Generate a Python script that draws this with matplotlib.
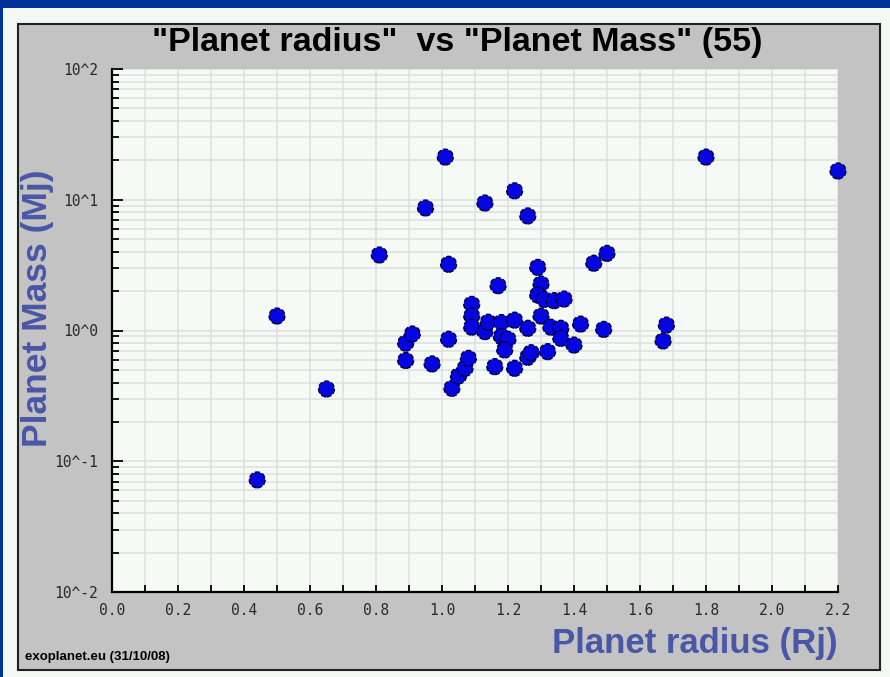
import numpy as np
import matplotlib
matplotlib.use("Agg")
import matplotlib.pyplot as plt
from matplotlib.patches import Rectangle
from matplotlib.ticker import LogLocator, FixedLocator, NullFormatter, MultipleLocator

# planet radius (Rj) and planet mass (Mj)
radius = [0.44, 0.50, 0.65, 0.81, 0.89, 0.91, 0.89, 0.97, 0.95, 1.01,
          1.02, 1.02, 1.03, 1.05, 1.07, 1.08, 1.09, 1.09, 1.09, 1.13,
          1.14, 1.13, 1.16, 1.17, 1.18, 1.18, 1.20, 1.19, 1.22, 1.22,
          1.22, 1.26, 1.26, 1.27, 1.26, 1.29, 1.30, 1.29, 1.31, 1.30,
          1.32, 1.33, 1.34, 1.36, 1.36, 1.37, 1.40, 1.42, 1.46, 1.50,
          1.49, 1.67, 1.68, 1.80, 2.20]
mass = [0.072, 1.29, 0.357, 3.78, 0.80, 0.94, 0.59, 0.555, 8.65, 21.2,
        0.857, 3.21, 0.361, 0.449, 0.514, 0.613, 1.585, 1.29, 1.06, 0.98,
        1.157, 9.44, 0.529, 2.20, 1.15, 0.897, 0.857, 0.71, 11.7, 1.20,
        0.514, 1.04, 0.624, 0.676, 7.52, 3.04, 2.27, 1.87, 1.73, 1.29,
        0.689, 1.06, 1.69, 1.04, 0.871, 1.74, 0.774, 1.12, 3.27, 3.89,
        1.02, 0.832, 1.10, 21.2, 16.6]

x_ticks = [0.0, 0.2, 0.4, 0.6, 0.8, 1.0, 1.2, 1.4, 1.6, 1.8, 2.0, 2.2]
y_ticks = [1e-2, 1e-1, 1e0, 1e1, 1e2]
y_labels = ["10^-2", "10^-1", "10^0", "10^1", "10^2"]

W, H = 890, 677
fig = plt.figure(figsize=(W / 100, H / 100), dpi=100)
fig.patch.set_facecolor("#f4f8f4")

def px(x0, y0, w, h):
    # pixel box (top-left origin) -> figure fraction
    return (x0 / W, 1 - (y0 + h) / H, w / W, h / H)

# blue frame strips
fig.add_artist(Rectangle((0, 1 - 8 / H), 1, 8 / H, transform=fig.transFigure,
                         facecolor="#003399", edgecolor="none", zorder=-10))
fig.add_artist(Rectangle((0, 0), 3 / W, 1, transform=fig.transFigure,
                         facecolor="#003399", edgecolor="none", zorder=-10))

# grey panel
bx, by, bw, bh = px(18, 24, 862, 646)
fig.add_artist(Rectangle((bx, by), bw, bh, transform=fig.transFigure,
                         facecolor="#c2c3c2", edgecolor="#222222", linewidth=1.5,
                         zorder=-10))

ax = fig.add_axes(px(112, 69, 726, 523))
ax.set_facecolor("#f6faf6")
ax.set_yscale("log")
ax.set_xlim(0, 2.2)
ax.set_ylim(1e-2, 1e2)

ax.scatter(radius, mass, s=130, color="#0505e0", edgecolors="#000033",
           linewidths=1.0, linestyles="--", zorder=3, clip_on=False)

for s in ["top", "right"]:
    ax.spines[s].set_visible(False)
for s in ["left", "bottom"]:
    ax.spines[s].set_color("black")
    ax.spines[s].set_linewidth(1.6)

mono = "DejaVu Sans Mono"
ax.xaxis.set_major_locator(FixedLocator(x_ticks))
ax.xaxis.set_minor_locator(MultipleLocator(0.1))
ax.set_xticklabels([f"{v:.1f}" for v in x_ticks], fontfamily=mono, fontsize=10.5, color="#2a2a2a")
ax.yaxis.set_major_locator(FixedLocator(y_ticks))
ax.yaxis.set_minor_locator(LogLocator(base=10, subs=np.arange(2, 10)))
ax.yaxis.set_minor_formatter(NullFormatter())
ax.set_yticklabels(y_labels, fontfamily=mono, fontsize=10.5, color="#2a2a2a")

ax.tick_params(axis="x", which="both", direction="in", length=5, width=1.3, pad=8, color="black")
ax.tick_params(axis="y", which="major", direction="in", length=8, width=1.3, pad=10, color="black")
ax.tick_params(axis="y", which="minor", direction="in", length=5, width=1.3, color="black")

ax.grid(True, which="both", color="#dfe1df", linewidth=1.2)
ax.set_axisbelow(True)

sans = ["Liberation Sans", "DejaVu Sans"]
fig.text(457 / W, 1 - 43 / H, '"Planet radius"  vs "Planet Mass" (55)',
         ha="center", va="center", fontsize=24.5, fontweight="bold", family=sans, color="black")
fig.text(38 / W, 1 - 308 / H, "Planet Mass (Mj)", rotation=90, ha="center", va="center",
         fontsize=25.5, fontweight="bold", family=sans, color="#4a56a6")
fig.text(838 / W, 1 - 643 / H, "Planet radius (Rj)", ha="right", va="center",
         fontsize=25, fontweight="bold", family=sans, color="#4a56a6")
fig.text(25 / W, 1 - 657 / H, "exoplanet.eu (31/10/08)", ha="left", va="center",
         fontsize=9.5, fontweight="bold", family=sans, color="black")

fig.savefig("out.png", dpi=100, facecolor=fig.get_facecolor())
